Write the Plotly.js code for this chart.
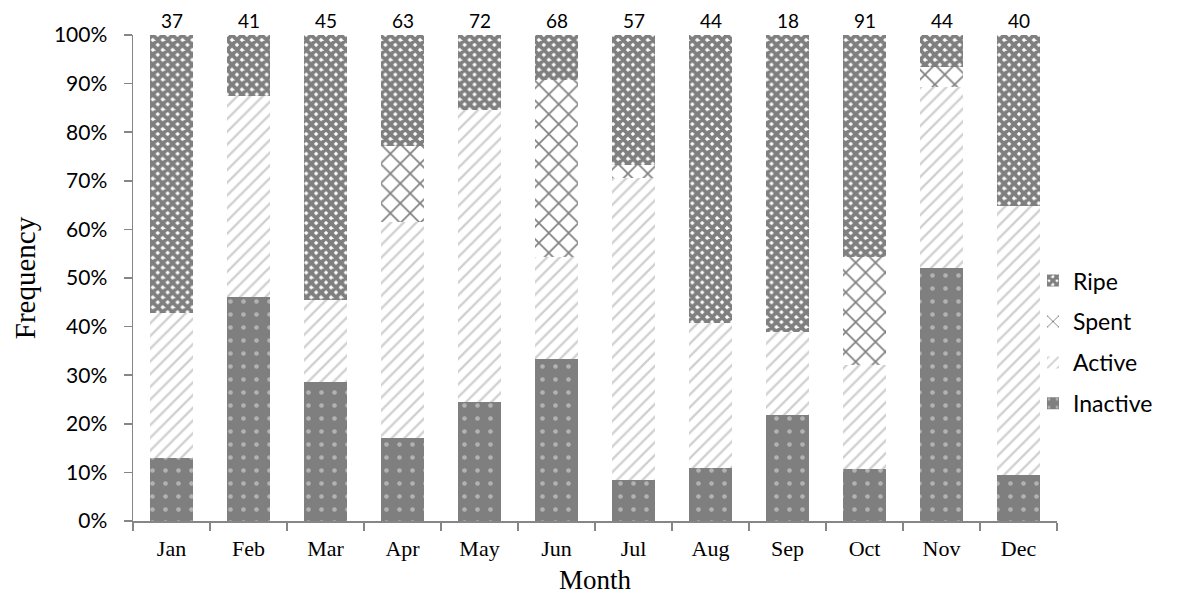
<!DOCTYPE html>
<html>
<head>
<meta charset="utf-8">
<script src="https://cdn.plot.ly/plotly-3.0.1.min.js"></script>
<style>
  html, body { margin: 0; padding: 0; background: #fff; }
  #chart { width: 1189px; height: 601px; }
</style>
</head>
<body>
<div id="chart"></div>
<script>
// Monthly gonad stage frequencies (% of sampled fish per month)
const months = ['Jan', 'Feb', 'Mar', 'Apr', 'May', 'Jun', 'Jul', 'Aug', 'Sep', 'Oct', 'Nov', 'Dec'];
const inactive = [13.0, 46.0, 28.5, 17.1, 24.5, 33.4, 8.4, 10.9, 21.9, 10.6, 52.0, 9.5];
const active   = [29.9, 41.4, 17.0, 44.5, 60.1, 20.9, 62.2, 29.8, 16.9, 21.4, 37.4, 55.3];
const spent    = [0, 0, 0, 15.6, 0, 36.4, 2.7, 0, 0, 22.4, 4.1, 0];
const ripe     = [57.1, 12.6, 54.5, 22.8, 15.4, 9.3, 26.7, 59.3, 61.2, 45.6, 6.5, 35.2];
// Sample size per month, printed above each bar
const sampleSize = [37, 41, 45, 63, 72, 68, 57, 44, 18, 91, 44, 40];

const sansFont = 'Lato, Carlito, "Liberation Sans", sans-serif';
const serifFont = '"Liberation Serif", "Times New Roman", serif';

function stage(name, values, fill, rank) {
  return {
    type: 'bar',
    name: name,
    x: months,
    y: values,
    legendgroup: name,
    legendrank: rank,
    marker: { color: fill.bg, line: { width: 0 }, pattern: fill.p },
    hoverinfo: 'x+y+name'
  };
}

// Stacked bottom to top: Inactive, Active, Spent, Ripe
const traces = [
  stage('Inactive', inactive, { bg: '#7f7f7f', p: { shape: '.', fgcolor: '#e6e6e6', bgcolor: '#7f7f7f', size: 13, solidity: 0.1, fillmode: 'overlay' } }, 4),
  stage('Active', active, { bg: '#ffffff', p: { shape: '/', fgcolor: '#a2a2a2', bgcolor: '#ffffff', size: 9, solidity: 0.26, fillmode: 'overlay' } }, 3),
  stage('Spent', spent, { bg: '#ffffff', p: { shape: 'x', fgcolor: '#000000', bgcolor: '#ffffff', size: 14, solidity: 0.22, fillmode: 'overlay' } }, 2),
  stage('Ripe', ripe, { bg: '#ffffff', p: { shape: 'x', fgcolor: '#000000', bgcolor: '#ffffff', size: 7, solidity: 0.8, fillmode: 'overlay' } }, 1)
];

const annotations = months.map((m, i) => ({
  x: m,
  y: 100,
  xref: 'x',
  yref: 'y',
  yanchor: 'bottom',
  yshift: 1,
  text: String(sampleSize[i]),
  showarrow: false,
  font: { family: sansFont, size: 19, color: '#000' }
}));

const plotLeft = 133, plotRight = 1189 - 132;

const layout = {
  width: 1189,
  height: 601,
  margin: { l: plotLeft, r: 132, t: 35, b: 80, pad: 0 },
  paper_bgcolor: '#ffffff',
  plot_bgcolor: '#ffffff',
  barmode: 'stack',
  bargap: 0.43,
  showlegend: true,
  legend: {
    x: (1033 - plotLeft) / (plotRight - plotLeft),
    xanchor: 'left',
    y: 0.368,
    yanchor: 'middle',
    traceorder: 'grouped',
    tracegroupgap: 8,
    font: { family: sansFont, size: 23, color: '#000' },
    bgcolor: 'rgba(0,0,0,0)'
  },
  xaxis: {
    type: 'category',
    showgrid: false,
    showline: true,
    linecolor: '#868686',
    linewidth: 1.5,
    ticks: 'outside',
    tickson: 'boundaries',
    ticklen: 8,
    tickcolor: '#868686',
    tickwidth: 1.5,
    ticklabelstandoff: 7,
    tickfont: { family: serifFont, size: 22, color: '#000' },
    title: { text: 'Month', font: { family: serifFont, size: 27, color: '#000' }, standoff: 10 },
    zeroline: false
  },
  yaxis: {
    range: [0, 100],
    dtick: 10,
    tick0: 0,
    ticksuffix: '%',
    showgrid: false,
    showline: true,
    linecolor: '#868686',
    linewidth: 1.5,
    ticks: 'outside',
    ticklen: 8,
    tickcolor: '#868686',
    tickwidth: 1.5,
    ticklabelstandoff: 12,
    tickfont: { family: sansFont, size: 21, color: '#000' },
    title: { text: 'Frequency', font: { family: serifFont, size: 29, color: '#000' }, standoff: 10 },
    zeroline: false
  },
  annotations: annotations
};

Plotly.newPlot('chart', traces, layout, { displayModeBar: false, staticPlot: true });
</script>
</body>
</html>
